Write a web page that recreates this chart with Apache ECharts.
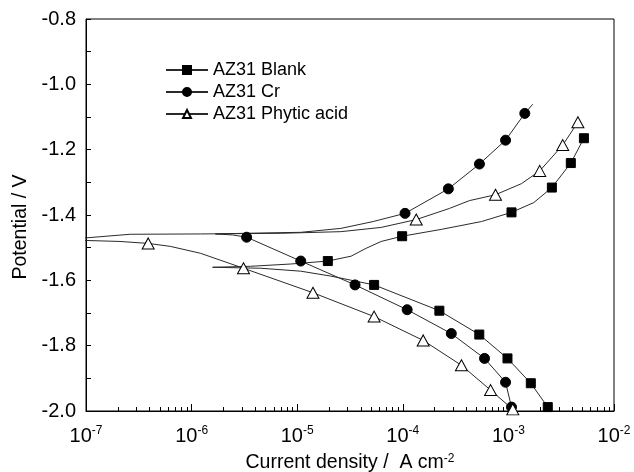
<!DOCTYPE html>
<html>
<head>
<meta charset="utf-8">
<script src="https://cdn.jsdelivr.net/npm/echarts@6/dist/echarts.min.js"></script>
<style>
  html, body { margin: 0; padding: 0; background: #fff; }
  #chart { width: 634px; height: 472px; }
</style>
</head>
<body>
<div id="chart"></div>
<script>
// Tafel curves: current (A cm-2), potential (V), marker flag
var blankI = [2.36e-3, 1.63e-3, 9.8e-4, 5.3e-4, 2.22e-4, 5.35e-5, 2.08e-5, 1.08e-5, 4.51e-6, 1.58e-6,
              3.62e-6, 8.7e-6, 1.95e-5, 3.24e-5, 4.49e-5, 6.24e-5, 9.86e-5, 2.32e-4, 5.56e-4, 1.07e-3,
              1.74e-3, 2.58e-3, 3.90e-3, 5.19e-3];
var blankE = [-1.988, -1.915, -1.839, -1.766, -1.693, -1.614, -1.587, -1.572, -1.563, -1.560,
              -1.557, -1.550, -1.541, -1.526, -1.502, -1.481, -1.465, -1.444, -1.420, -1.392,
              -1.362, -1.316, -1.241, -1.165];
var blankM = [1, 1, 1, 1, 1, 1, 0, 0, 0, 0,
              0, 0, 1, 0, 0, 0, 1, 0, 0, 1,
              0, 1, 1, 1];

var crI = [1.07e-3, 9.4e-4, 5.94e-4, 2.88e-4, 1.10e-4, 3.53e-5, 1.08e-5, 3.32e-6, 2.44e-6, 1.68e-6,
           3.24e-6, 1.08e-5, 2.59e-5, 5.24e-5, 1.05e-4, 2.70e-4, 5.32e-4, 9.4e-4, 1.43e-3, 1.70e-3];
var crE = [-1.988, -1.912, -1.839, -1.763, -1.690, -1.614, -1.541, -1.468, -1.461, -1.458,
           -1.456, -1.453, -1.441, -1.420, -1.395, -1.320, -1.244, -1.171, -1.089, -1.061];
var crM = [1, 1, 1, 1, 1, 1, 1, 1, 0, 0,
           0, 0, 0, 0, 1, 1, 1, 1, 1, 0];

var phyI = [1.10e-3, 6.78e-4, 3.59e-4, 1.56e-4, 5.35e-5, 1.41e-5, 3.10e-6, 1.21e-6, 6.28e-7, 3.88e-7,
            2.10e-7, 1.0e-7, 5e-8, 1.0e-7, 1.69e-7, 2.62e-7, 1.21e-6, 6.98e-6, 2.59e-5, 6.24e-5,
            1.34e-4, 2.76e-4, 4.27e-4, 7.55e-4, 1.33e-3, 1.98e-3, 3.27e-3, 4.55e-3];
var phyE = [-1.995, -1.936, -1.860, -1.784, -1.711, -1.638, -1.563, -1.517, -1.496, -1.487,
            -1.481, -1.478, -1.474, -1.470, -1.464, -1.459, -1.458, -1.456, -1.451, -1.438,
            -1.414, -1.380, -1.356, -1.338, -1.304, -1.265, -1.186, -1.116];
var phyM = [1, 1, 1, 1, 1, 1, 1, 0, 0, 1,
            0, 0, 0, 0, 0, 0, 0, 0, 0, 0,
            1, 0, 0, 1, 0, 1, 1, 1];

var seriesNames = ['AZ31 Blank', 'AZ31 Cr', 'AZ31 Phytic acid'];

// decades of the x axis (exponents) and the 2..9 minor ticks between them
var decades = [-7, -6, -5, -4, -3, -2];
var minorExp = [];
decades.slice(0, -1).forEach(function (k) {
  for (var m = 2; m < 10; m++) minorExp.push(k + Math.log10(m));
});

var FONT = 'Liberation Sans, Arial, sans-serif';
var LINE = '#2a2a2a';

function pts(xs, ys, ms) {
  return xs.map(function (x, i) {
    var p = { value: [x, ys[i]] };
    if (!ms[i]) p.symbol = 'none';
    return p;
  });
}

function curve(name, xs, ys, ms, symbol, size, fill) {
  return {
    name: name,
    type: 'line',
    xAxisIndex: 0,
    data: pts(xs, ys, ms),
    symbol: symbol,
    symbolSize: size,
    showAllSymbol: true,
    lineStyle: { color: LINE, width: 1 },
    itemStyle: { color: fill, borderColor: '#000', borderWidth: 1, opacity: 1 },
    emphasis: { disabled: true },
    clip: true,
    z: 3
  };
}

// hidden axes in exponent space, used only to draw the tick marks
function tickAxis(values, len) {
  return {
    type: 'value', min: -7, max: -2,
    position: 'bottom',
    axisLine: { show: false },
    axisLabel: { show: false },
    splitLine: { show: false },
    axisTick: { show: true, inside: true, length: len, customValues: values, lineStyle: { color: '#000' } }
  };
}

var chart = echarts.init(document.getElementById('chart'));
chart.setOption({
  animation: false,
  backgroundColor: '#fff',
  textStyle: { fontFamily: FONT },
  grid: {
    left: 86, right: 20, top: 19, bottom: 61,
    outerBoundsMode: 'none',
    containLabel: false,
    show: true, borderColor: '#000', borderWidth: 1, backgroundColor: 'transparent'
  },
  legend: {
    orient: 'vertical',
    left: 160, top: 56,
    itemWidth: 42, itemHeight: 10, itemGap: 4,
    textStyle: { fontSize: 18, color: '#000', fontFamily: FONT },
    data: seriesNames
  },
  xAxis: [{
    type: 'log', logBase: 10, min: 1e-7, max: 1e-2, interval: 1,
    position: 'bottom',
    axisLine: { lineStyle: { color: '#000', width: 1 } },
    axisTick: { show: false },
    splitLine: { show: false },
    axisLabel: {
      margin: 14, color: '#000',
      formatter: function (v) {
        return '{b|10}{s|' + Math.round(Math.log10(v)) + '}';
      },
      rich: {
        b: { fontSize: 20, fontFamily: FONT, color: '#000', lineHeight: 22 },
        s: { fontSize: 12, fontFamily: FONT, color: '#000', verticalAlign: 'top', lineHeight: 14 }
      }
    },
    name: 'Current density /  A cm{s|-2}',
    nameLocation: 'middle', nameGap: 42,
    nameTextStyle: {
      fontSize: 19.5, color: '#000', fontFamily: FONT,
      rich: { s: { fontSize: 12, fontFamily: FONT, color: '#000', verticalAlign: 'top', lineHeight: 12 } }
    }
  }, tickAxis(decades, 7), tickAxis(minorExp, 4)],
  yAxis: {
    type: 'value', min: -2.0, max: -0.8, interval: 0.2,
    axisLine: { show: true, lineStyle: { color: '#000', width: 1 } },
    axisTick: { show: true, inside: true, length: 5, lineStyle: { color: '#000' } },
    minorTick: { show: true, splitNumber: 2, length: 5, lineStyle: { color: '#000' } },
    splitLine: { show: false },
    axisLabel: {
      margin: 10, color: '#000', fontSize: 20, fontFamily: FONT,
      formatter: function (v) { return v.toFixed(1); }
    },
    name: 'Potential / V',
    nameLocation: 'middle', nameGap: 53,
    nameTextStyle: { fontSize: 19.5, color: '#000', fontFamily: FONT, padding: [0, 24, 0, 0] }
  },
  series: [
    curve(seriesNames[0], blankI, blankE, blankM, 'rect', 9, '#000'),
    curve(seriesNames[1], crI, crE, crM, 'circle', 10, '#000'),
    curve(seriesNames[2], phyI, phyE, phyM, 'triangle', [12, 11], '#fff')
  ]
});
</script>
</body>
</html>
